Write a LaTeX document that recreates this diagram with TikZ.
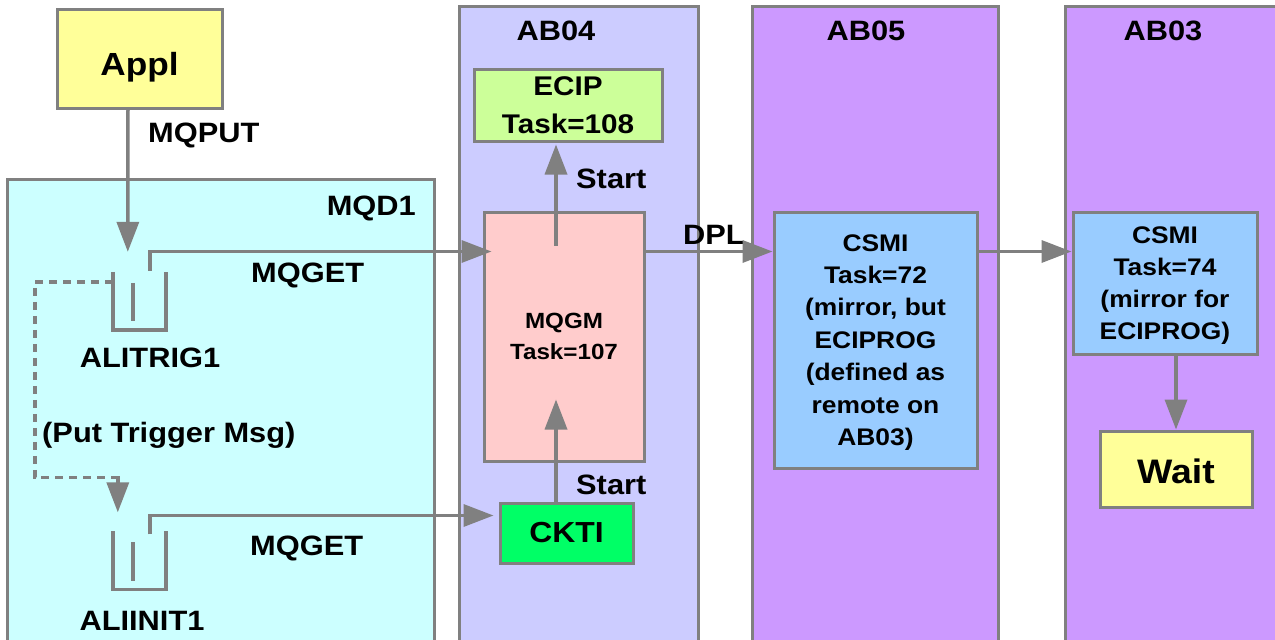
\documentclass[tikz,border=0pt]{standalone}
\usepackage{fontspec}
\setmainfont{Liberation Sans}[FakeStretch=1.1]
\usetikzlibrary{arrows.meta,calc}
\definecolor{lineg}{HTML}{808080}
\definecolor{yel}{HTML}{FFFF99}
\definecolor{cyanbg}{HTML}{CCFFFF}
\definecolor{ab4bg}{HTML}{CCCCFF}
\definecolor{purbg}{HTML}{CC99FF}
\definecolor{ecipbg}{HTML}{CCFF99}
\definecolor{pinkbg}{HTML}{FFCCCC}
\definecolor{greenbg}{HTML}{00FF66}
\definecolor{bluebg}{HTML}{99CCFF}
\newcommand{\fs}[2]{\fontsize{#1}{#2}\selectfont\bfseries}
\tikzset{
  box/.style={draw=lineg, line width=3pt, inner sep=0pt, align=center},
  colbox/.style={draw=lineg, line width=3pt, inner sep=0pt, anchor=north west},
  arr/.style={draw=lineg, line width=3.5pt, -{Triangle[length=30pt,width=22pt]}},
  qline/.style={draw=lineg, line width=3.5pt},
  dline/.style={draw=lineg, line width=3.5pt, dash pattern=on 8pt off 6pt},
  qbox/.style={inner sep=0pt, minimum width=53pt, minimum height=58pt},
  lbl/.style={inner sep=0pt, font=\fs{28}{34}},
}
\begin{document}
\begin{tikzpicture}[x=1pt,y=-1pt]
\useasboundingbox (0,0) rectangle (1275,640);
\clip (0,0) rectangle (1275,640);
\fill[white] (0,0) rectangle (1275,640);
% containers
\node[colbox, fill=cyanbg, minimum width=427pt, minimum height=480pt] (mqd1) at (6,178) {};
\node[colbox, fill=ab4bg, minimum width=239pt, minimum height=660pt] (ab04) at (458,5) {};
\node[colbox, fill=purbg, minimum width=246pt, minimum height=660pt] (ab05) at (751,5) {};
\node[colbox, fill=purbg, minimum width=240pt, minimum height=660pt] (ab03) at (1064,5) {};
\node[lbl, anchor=base] (ab04t) at (556,40) {AB04};
\node[lbl, anchor=base] (ab05t) at (866,40) {AB05};
\node[lbl, anchor=base] (ab03t) at (1163,40) {AB03};
\node[lbl, anchor=base east] (mqd1t) at (416,215) {MQD1};
% boxes
\node[box, fill=yel, minimum width=165pt, minimum height=99pt, font=\fs{32}{38}, text height=33pt, text depth=0pt] (appl) at (139.5,58.5) {Appl};
\node[box, fill=ecipbg, minimum width=188pt, minimum height=72pt, font=\fs{27}{38}, text depth=-1pt] (ecip) at (568,105) {ECIP\\Task=108};
\node[box, fill=pinkbg, minimum width=160pt, minimum height=249pt, font=\fs{22}{31}, text depth=-2pt] (mqgm) at (564,336.5) {MQGM\\Task=107};
\node[box, fill=greenbg, minimum width=133pt, minimum height=60pt, font=\fs{29}{34}, text height=19pt, text depth=0pt] (ckti) at (566.5,533) {CKTI};
\node[box, fill=bluebg, minimum width=203pt, minimum height=256pt, font=\fs{24}{32.4}, text depth=-3pt] (csmi72) at (875.5,340) {CSMI\\Task=72\\(mirror, but\\ECIPROG\\(defined as\\remote on\\AB03)};
\node[box, fill=bluebg, minimum width=184pt, minimum height=142pt, font=\fs{24}{32.2}, text depth=-5pt] (csmi74) at (1165,283) {CSMI\\Task=74\\(mirror for\\ECIPROG)};
\node[box, fill=yel, minimum width=152pt, minimum height=76pt, font=\fs{34}{40}, text height=28pt, text depth=0pt] (wait) at (1176,469) {Wait};
% queues
\node[qbox] (q1) at (139.5,301) {};
\node[qbox] (q2) at (139.5,560.5) {};
\foreach \q in {q1,q2}{
  \draw[qline] (\q.north west) -- (\q.south west) -- (\q.south east) -- (\q.north east);
  \draw[qline] ($(\q.north west)+(20,11)$) -- ($(\q.south west)+(20,-9)$);
}
\coordinate (q1out) at ($(q1.north west)+(37,-1)$);
\coordinate (q2out) at ($(q2.north west)+(37,3)$);
% labels
\node[lbl, anchor=base west] (mqput) at (148,142) {MQPUT};
\node[lbl, anchor=base west] (mqget1) at (251,282) {MQGET};
\node[lbl, anchor=base west] (mqget2) at (250,555) {MQGET};
\node[lbl, anchor=base] (alitrig) at (150,367) {ALITRIG1};
\node[lbl, anchor=base west] (puttrig) at (42,442) {(Put Trigger Msg)};
\node[lbl, anchor=base] (aliinit) at (142,630) {ALIINIT1};
\node[lbl, anchor=base west] (start1) at (576,188) {Start};
\node[lbl, anchor=base west] (start2) at (576,494) {Start};
\node[lbl, anchor=base west] (dpl) at (683,244) {DPL};
% connectors
\draw[arr] ($(appl.south)+(-11.5,0)$) -- ($(q1.north west)+(15,-20)$);
\draw[arr] (q1out) |- ($(mqgm.north west)+(9,41)$);
\draw[arr] (q2out) |- ($(ckti.north west)+(-5,14)$);
\draw[dline] ($(q1.north west)+(0,10)$) -| ($(q2.north west)+(-78,-54)$) -- ($(q2.north west)+(5,-54)$);
\draw[arr] ($(q2.north west)+(5,-55)$) -- ($(q2.north west)+(5,-19)$);
\draw[arr] ($(ckti.north)+(-10.5,0)$) -- ($(mqgm.south)+(-8,-63)$);
\draw[arr] ($(mqgm.north)+(-8,35)$) -- ($(ecip.south)+(-12,2)$);
\draw[arr] ($(mqgm.north east)+(0,41)$) -- ($(csmi72.north west)+(0,41)$);
\draw[arr] ($(csmi72.north east)+(0,41)$) -- ($(csmi74.north west)+(0,41)$);
\draw[arr] (csmi74.south -| wait.north) -- (wait.north);
\end{tikzpicture}
\end{document}
